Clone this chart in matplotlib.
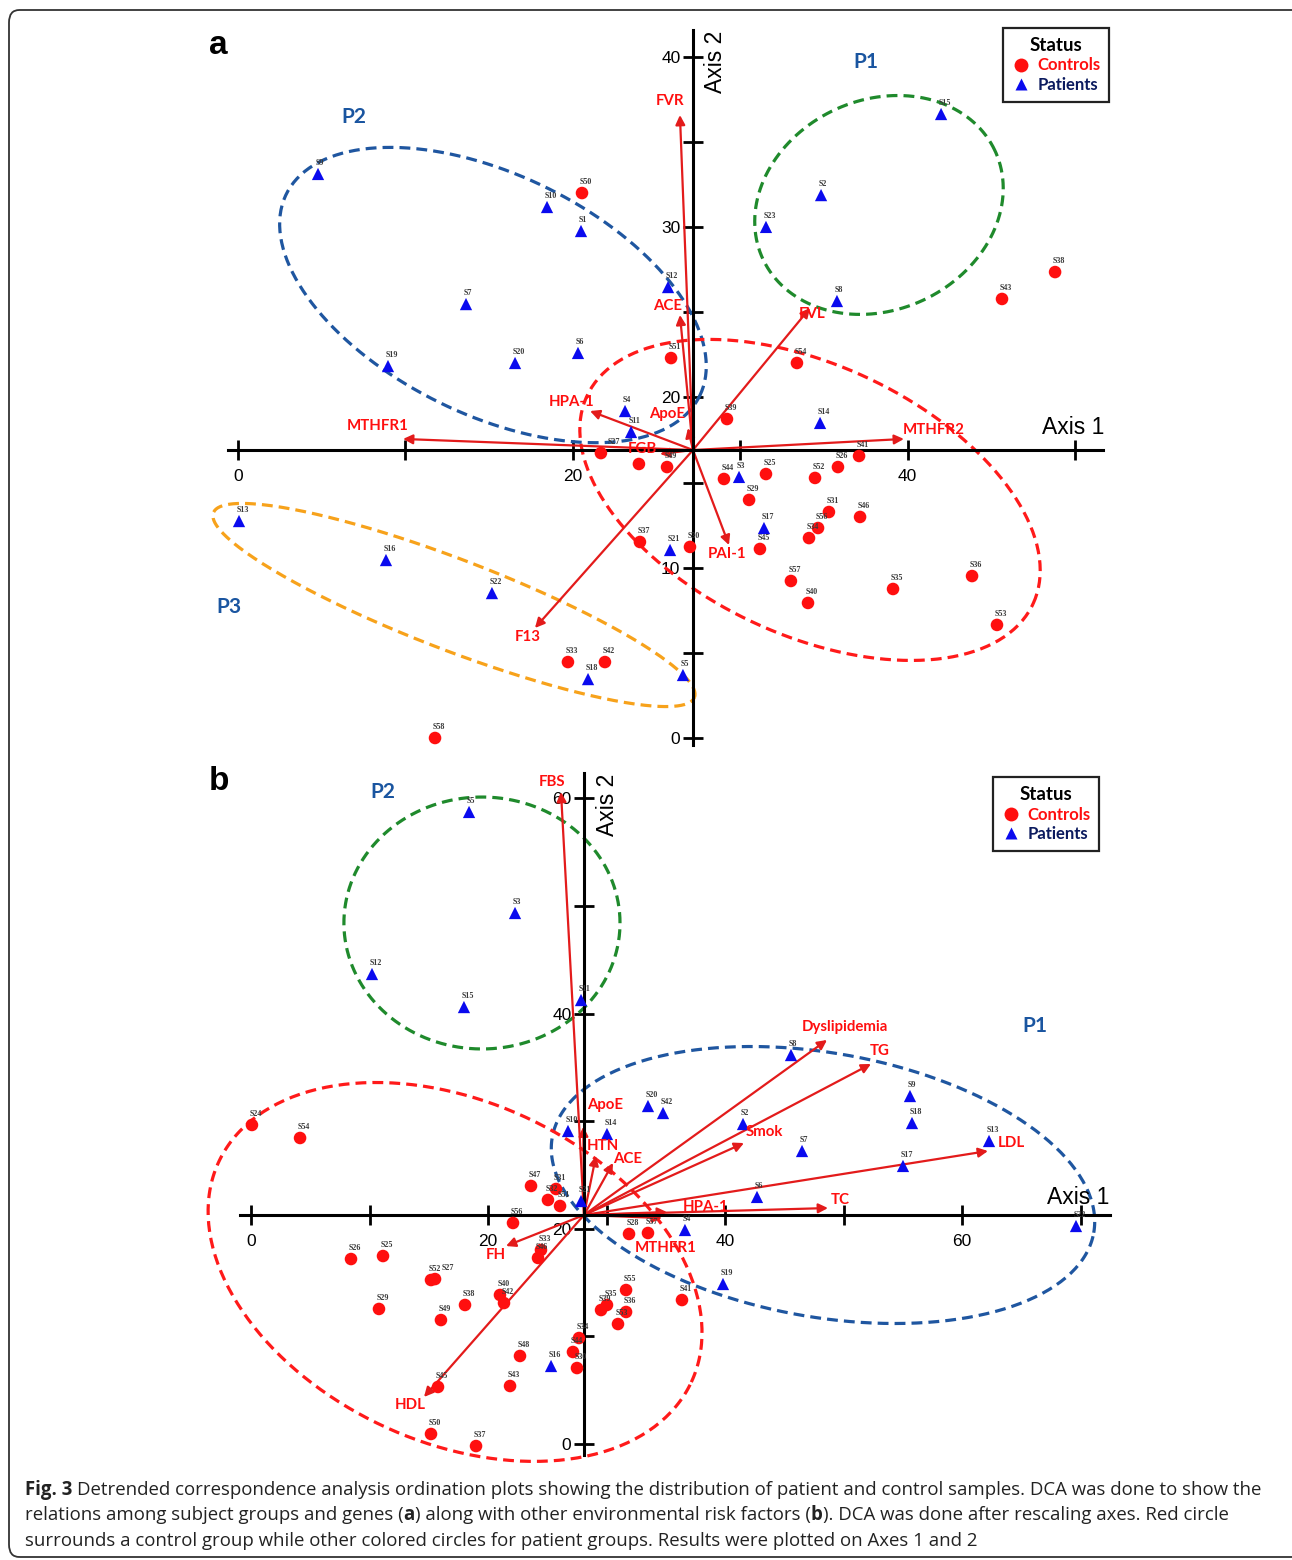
import numpy as np
import matplotlib
matplotlib.use('Agg')
import matplotlib.pyplot as plt
from matplotlib.lines import Line2D
from matplotlib.patches import FancyBboxPatch

W, H = 1292, 1560

# ---- panel a : genes ----
a_pat_names = ['S9', 'S10', 'S1', 'S12', 'S7', 'S6', 'S20', 'S19', 'S4', 'S11', 'S15', 'S2',
               'S23', 'S8', 'S14', 'S3', 'S17', 'S21', 'S13', 'S16', 'S22', 'S18', 'S5']
a_pat_x = [4.78, 18.46, 20.49, 25.69, 13.62, 20.31, 16.55, 8.96, 23.12, 23.48, 42.0, 34.83,
           31.54, 35.78, 34.77, 29.93, 31.42, 25.81, 0.06, 8.84, 15.17, 20.91, 26.58]
a_pat_y = [33.12, 31.18, 29.77, 26.48, 25.48, 22.61, 22.02, 21.84, 19.20, 17.97, 36.64, 31.88,
           30.01, 25.66, 18.50, 15.33, 12.33, 11.04, 12.74, 10.45, 8.51, 3.46, 3.70]

a_ctl_names = ['S50', 'S51', 'S39', 'S54', 'S43', 'S38', 'S27', '', 'S49', 'S44', 'S25', 'S52',
               'S26', 'S41', 'S29', 'S31', 'S56', 'S34', 'S46', 'S45', 'S30', 'S37', 'S57', 'S40',
               'S35', 'S36', 'S53', 'S33', 'S42', 'S58']
a_ctl_x = [20.55, 25.87, 29.21, 33.39, 45.64, 48.81, 21.68, 23.95, 25.63, 29.03, 31.54, 34.47,
           35.84, 37.10, 30.53, 35.30, 34.65, 34.11, 37.16, 31.18, 27.00, 24.01, 33.03, 34.05,
           39.13, 43.85, 45.34, 19.71, 21.92, 11.77]
a_ctl_y = [32.0, 22.31, 18.73, 22.02, 25.78, 27.36, 16.73, 16.09, 15.91, 15.21, 15.50, 15.27,
           15.91, 16.56, 13.98, 13.27, 12.33, 11.74, 12.98, 11.10, 11.22, 11.51, 9.22, 7.93,
           8.75, 9.51, 6.64, 4.46, 4.46, 0.0]

a_origin = (27.18, 16.91)
a_vec_names = ['FVR', 'ACE', 'HPA-1', 'ApoE', 'FGB', 'MTHFR1', 'MTHFR2', 'FVL', 'PAI-1', 'F13']
a_vec_x = [26.40, 26.40, 21.03, 26.88, 25.21, 9.86, 39.78, 34.17, 29.33, 17.74]
a_vec_y = [36.58, 24.84, 19.20, 18.20, 16.68, 17.56, 17.56, 25.25, 11.33, 6.46]
a_lab_x = [25.81, 25.69, 19.95, 25.63, 24.13, 8.36, 41.58, 34.29, 29.21, 17.32]
a_lab_y = [37.40, 25.37, 19.73, 19.03, 16.97, 18.32, 18.09, 24.90, 10.80, 5.93]

# ---- panel b : environmental risk factors ----
b_pat_names = ['S5', 'S3', 'S12', 'S15', 'S11', 'S8', 'S20', 'S42', 'S9', 'S18', 'S2', 'S13',
               'S7', 'S17', 'S6', 'S22', 'S10', 'S14', 'S21', 'S4', 'S19', 'S16']
b_pat_x = [18.40, 22.28, 10.21, 17.97, 27.85, 45.57, 33.50, 34.77, 55.61, 55.78, 41.52, 62.28,
           46.50, 55.02, 42.70, 69.62, 26.75, 30.04, 27.85, 36.62, 39.83, 25.32]
b_pat_y = [58.74, 49.35, 43.68, 40.61, 41.26, 36.15, 31.41, 30.76, 32.34, 29.83, 29.74, 28.16,
           27.23, 25.84, 22.96, 20.26, 29.09, 28.81, 22.58, 19.89, 14.87, 7.25]

b_ctl_names = ['S24', 'S54', 'S47', 'S31', 'S32', 'S51', 'S56', 'S33', 'S46', 'S26', 'S25', 'S52',
               'S27', 'S29', 'S38', 'S49', 'S40', 'S42', 'S48', 'S43', 'S45', 'S50', 'S37', 'S34',
               'S44', 'S30', 'S55', 'S35', 'S39', 'S36', 'S53', 'S41', 'S28', 'S57']
b_ctl_x = [0.08, 4.14, 23.63, 25.74, 25.06, 26.08, 22.11, 24.47, 24.22, 8.44, 11.14, 15.19,
           15.53, 10.80, 18.06, 16.03, 21.01, 21.35, 22.70, 21.86, 15.78, 15.19, 18.99, 27.68,
           27.17, 27.51, 31.65, 30.04, 29.54, 31.65, 30.97, 36.37, 31.90, 33.50]
b_ctl_y = [29.65, 28.44, 23.98, 23.70, 22.68, 22.12, 20.54, 18.03, 17.29, 17.19, 17.47, 15.24,
           15.33, 12.55, 12.92, 11.52, 13.85, 13.10, 8.18, 5.39, 5.30, 0.93, -0.19, 9.85,
           8.55, 7.06, 14.31, 12.92, 12.45, 12.27, 11.15, 13.38, 19.52, 19.61]

b_origin = (28.10, 21.28)
b_vec_names = ['FBS', 'Dyslipidemia', 'TG', 'Smok', 'LDL', 'TC', 'HPA-1', 'MTHFR1', 'ApoE',
               'HTN', 'ACE', 'FH', 'HDL']
b_vec_x = [26.16, 48.61, 52.32, 41.60, 62.19, 48.69, 35.10, 34.68, 28.05, 29.11, 30.55, 21.52, 14.60]
b_vec_y = [60.59, 37.55, 35.32, 27.97, 27.23, 21.93, 21.56, 21.00, 29.5, 26.77, 26.12, 18.40, 4.37]
b_lab_x = [25.40, 50.13, 53.08, 43.29, 64.14, 49.70, 38.40, 35.02, 29.87, 29.70, 31.81, 20.68, 13.42]
b_lab_y = [61.52, 38.75, 36.52, 29.00, 27.97, 22.68, 22.03, 18.22, 31.51, 27.70, 26.49, 17.57, 3.62]

# sample labels that sit on top of each other get nudged (points)
label_nudge = {'S27': (5, 5)}

# group outlines: centre x, centre y, semi axes (x units), angle
a_rings = [(15.23, 26.01, 13.74, 7.17, -26, '#1f56a0'),
           (38.29, 31.30, 7.65, 6.27, 25, '#1f8a2c'),
           (34.17, 13.98, 14.70, 8.06, -25, '#ff1a1a'),
           (12.90, 7.81, 15.39, 2.71, -21, '#f7a21b')]
b_rings = [(19.49, 48.42, 11.65, 10.63, 0, '#1f8a2c'),
           (48.27, 24.07, 23.2, 11.14, -10, '#1f56a0'),
           (17.22, 15.99, 22.0, 14.35, -25, '#ff1a1a')]

RED = '#ff0f0f'
ARROW = '#e31b1b'
BLUE = '#0a0aee'
PCOL = '#1a55a0'

fig = plt.figure(figsize=(W / 100, H / 100), dpi=100)


def ftext(px, py, s, **kw):
    return fig.text(px / W, 1 - py / H, s, **kw)


def make_panel(x0, kx, y0, ky, xlim, ylim):
    left = x0 + kx * xlim[0]
    right = x0 + kx * xlim[1]
    top = y0 - ky * ylim[1]
    bottom = y0 - ky * ylim[0]
    ax = fig.add_axes([left / W, 1 - bottom / H, (right - left) / W, (bottom - top) / H])
    ax.set_xlim(xlim)
    ax.set_ylim(ylim)
    ax.patch.set_alpha(0)
    return ax


def ring(ax, cx, cy, a, b, ang, col, ratio):
    t = np.linspace(0, 2 * np.pi, 300)
    th = np.radians(ang)
    ex, ey = a * np.cos(t), b * np.sin(t)
    xr = ex * np.cos(th) - ey * np.sin(th)
    yr = ex * np.sin(th) + ey * np.cos(th)
    ax.plot(cx + xr, cy + yr * ratio, color=col, lw=2.3, ls=(0, (3.4, 1.9)), zorder=2)


def setup_axes(ax, org, xt, xl, yt, yl, xb, yb):
    for s in ['top', 'right']:
        ax.spines[s].set_visible(False)
    ax.spines['left'].set_position(('data', org[0]))
    ax.spines['bottom'].set_position(('data', org[1]))
    ax.spines['left'].set_bounds(*yb)
    ax.spines['bottom'].set_bounds(*xb)
    for s in ['left', 'bottom']:
        ax.spines[s].set_linewidth(2.2)
        ax.spines[s].set_zorder(3)
    ax.set_xticks(xt)
    ax.set_xticklabels(xl)
    ax.set_yticks(yt)
    ax.set_yticklabels(yl)
    ax.tick_params(direction='inout', length=14, width=2, labelsize=12.5, pad=2)
    ax.tick_params(axis='x', pad=7)
    for t in ax.get_xticklabels() + ax.get_yticklabels():
        t.set_family('Liberation Sans')


def draw_panel(ax, ratio, rings, origin, pn, px, py, cn, cx, cy, vn, vx, vy, lx, ly):
    for r in rings:
        ring(ax, *r[:5], r[5], ratio)
    for name, x, y in zip(vn, vx, vy):
        ax.annotate('', xy=(x, y), xytext=origin,
                    arrowprops=dict(arrowstyle='-|>', color=ARROW, lw=1.6,
                                    mutation_scale=14, shrinkA=0, shrinkB=0), zorder=3)
    for name, x, y in zip(vn, lx, ly):
        ax.text(x, y, name, color=RED, fontsize=10.8, fontweight='bold', family='Lato',
                ha='center', va='center', zorder=6)
    ax.scatter(cx, cy, s=82, marker='o', color=RED, edgecolors='none', zorder=4)
    ax.scatter(px, py, s=78, marker='^', color=BLUE, edgecolors='none', zorder=4)
    for names, xs, ys in [(cn, cx, cy), (pn, px, py)]:
        for name, x, y in zip(names, xs, ys):
            ax.annotate(name, (x, y), xytext=label_nudge.get(name, (-2, 5)),
                        textcoords='offset points',
                        fontsize=5.8, family='Liberation Serif', fontweight='bold',
                        color='#3a3a3a', ha='left', va='bottom', zorder=5)


def legend(ax, px, py):
    h1 = Line2D([], [], ls='none', marker='o', markerfacecolor=RED, markeredgecolor='none', markersize=10)
    h2 = Line2D([], [], ls='none', marker='^', markerfacecolor=BLUE, markeredgecolor='none', markersize=9)
    leg = ax.legend([h1, h2], ['Controls', 'Patients'], title='Status', loc='upper left',
                    bbox_to_anchor=(px / W, 1 - py / H), bbox_transform=fig.transFigure,
                    frameon=True, fancybox=False, edgecolor='#222222', framealpha=1,
                    prop=dict(family='Lato', weight='bold', size=12),
                    title_fontproperties=dict(family='Lato', weight='bold', size=13.5),
                    handletextpad=0.5, borderpad=0.55, labelspacing=0.2, handlelength=1.0,
                    borderaxespad=0)
    leg.get_frame().set_linewidth(1.6)
    leg.set_zorder(10)
    for t, c in zip(leg.get_texts(), [RED, '#0b1a5e']):
        t.set_color(c)


# panel a
axa = make_panel(238, 16.74, 738, 17.03, (-2, 52), (-1.5, 42.5))
setup_axes(axa, a_origin, np.arange(0, 51, 10), ['0', '', '20', '', '40', ''],
           np.arange(0, 41, 5), ['0', '', '10', '', '20', '', '30', '', '40'],
           (-0.6, 51.7), (-0.4, 41.6))
draw_panel(axa, 16.74 / 17.03, a_rings, a_origin, a_pat_names, a_pat_x, a_pat_y,
           a_ctl_names, a_ctl_x, a_ctl_y, a_vec_names, a_vec_x, a_vec_y, a_lab_x, a_lab_y)
legend(axa, 1003, 28)

# panel b
axb = make_panel(251, 11.85, 1444, 10.76, (-4, 74), (-2, 63))
setup_axes(axb, b_origin, np.arange(0, 71, 10), ['0', '', '20', '', '40', '', '60', ''],
           np.arange(0, 61, 10), ['0', '', '20', '', '40', '', '60'],
           (-0.9, 72.5), (-1.0, 62.4))
draw_panel(axb, 11.85 / 10.76, b_rings, b_origin, b_pat_names, b_pat_x, b_pat_y,
           b_ctl_names, b_ctl_x, b_ctl_y, b_vec_names, b_vec_x, b_vec_y, b_lab_x, b_lab_y)
legend(axb, 993, 777)

# panel letters, axis titles, group names
ftext(218, 45, 'a', fontsize=24, fontweight='bold', family='Liberation Sans', ha='center', va='center')
ftext(219, 782, 'b', fontsize=24, fontweight='bold', family='Liberation Sans', ha='center', va='center')
ftext(716, 62, 'Axis 2', fontsize=16.5, family='Liberation Sans', rotation=90, ha='center', va='center')
ftext(1073, 428, 'Axis 1', fontsize=16.5, family='Liberation Sans', ha='center', va='center')
ftext(607, 805, 'Axis 2', fontsize=16.5, family='Liberation Sans', rotation=90, ha='center', va='center')
ftext(1078, 1198, 'Axis 1', fontsize=16.5, family='Liberation Sans', ha='center', va='center')
for x, y, s in [(866, 62, 'P1'), (354, 117, 'P2'), (229, 607, 'P3'), (383, 792, 'P2'), (1035, 1026, 'P1')]:
    ftext(x, y, s, fontsize=15, fontweight='bold', family='Lato', color=PCOL, ha='center', va='center')

# outer frame
fig.patches.append(FancyBboxPatch((9 / W, 1 - 1557 / H), 1400 / W, 1547 / H,
                                  boxstyle='round,pad=0,rounding_size=0.008',
                                  transform=fig.transFigure, fill=False,
                                  edgecolor='#333333', lw=1.3))

# caption with bold pieces
cap = [
    [('Fig. 3', True), (' Detrended correspondence analysis ordination plots showing the distribution of patient and control samples. DCA was done to show the', False)],
    [('relations among subject groups and genes (', False), ('a', True), (') along with other environmental risk factors (', False), ('b', True), ('). DCA was done after rescaling axes. Red circle', False)],
    [('surrounds a control group while other colored circles for patient groups. Results were plotted on Axes 1 and 2', False)],
]
cap_font = 'Open Sans'
rend = fig.canvas.get_renderer()


def width_of(s, size, bold):
    t = fig.text(0, 0, s, fontsize=size, fontweight='bold' if bold else 'normal', family=cap_font)
    w = t.get_window_extent(renderer=rend).width
    t.remove()
    return w


def line_width(parts, size):
    sp = width_of('x x', size, False) - width_of('xx', size, False)
    w = 0
    for s, b in parts:
        core = s.strip()
        w += sp * (len(s) - len(s.lstrip())) + width_of(core, size, b) + sp * (len(s) - len(s.rstrip()))
    return w, sp


size = 13.0
w0, _ = line_width(cap[0], size)
size = size * 1238 / w0
w1, _ = line_width(cap[0], size)
size = size * 1238 / w1

for i, parts in enumerate(cap):
    x = 25
    y = 1490 + i * 25.5
    _, sp = line_width(parts, size)
    for s, b in parts:
        x += sp * (len(s) - len(s.lstrip()))
        core = s.strip()
        t = ftext(x, y, core, fontsize=size, fontweight='bold' if b else 'normal',
                  family=cap_font, color='#222222', va='center', ha='left')
        x += t.get_window_extent(renderer=rend).width
        x += sp * (len(s) - len(s.rstrip()))

fig.savefig('out.png', dpi=100)
